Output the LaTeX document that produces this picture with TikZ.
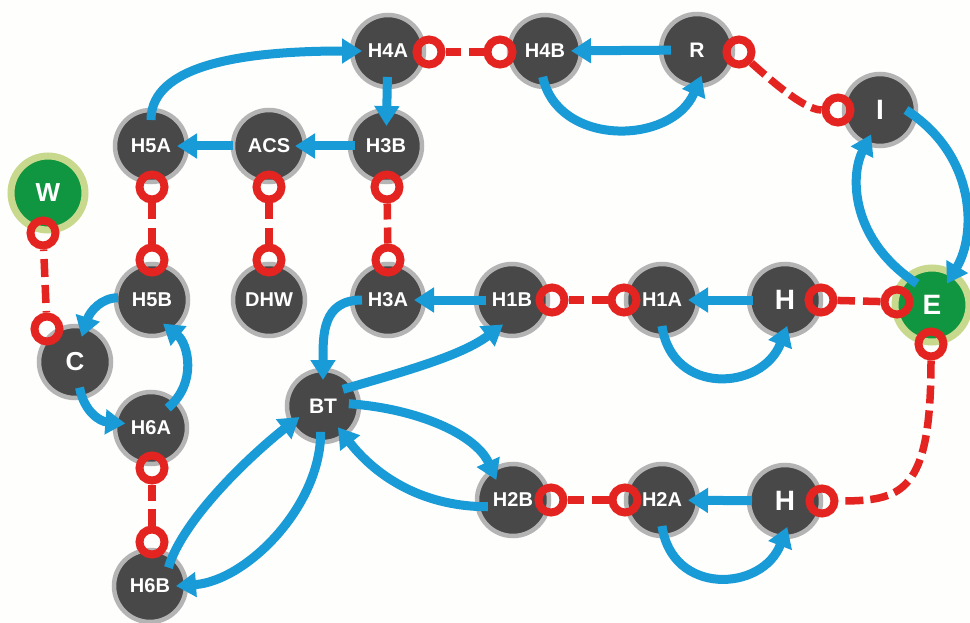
\documentclass[tikz,border=0pt]{standalone}
\usepackage{fontspec}
\setmainfont{Liberation Sans}
\usetikzlibrary{arrows.meta,calc}
\definecolor{hubdark}{RGB}{72,72,72}
\definecolor{hubring}{RGB}{180,180,180}
\definecolor{hubgreen}{RGB}{16,150,64}
\definecolor{greenring}{RGB}{200,216,140}
\definecolor{flowblue}{RGB}{24,155,214}
\definecolor{linkred}{RGB}{228,36,32}
\definecolor{paper}{RGB}{254,254,252}
\tikzset{
 hub/.style={circle, fill=hubdark, draw=hubring, line width=4.5pt, minimum size=72pt,
   inner sep=0pt, outer sep=-10pt, text=white, font=\bfseries\fontsize{20}{20}\selectfont},
 greenhub/.style={hub, fill=hubgreen, draw=greenring, line width=7pt, minimum size=74pt, outer sep=-11pt},
 bigtext/.style={font=\bfseries\fontsize{28}{28}\selectfont},
 midtext/.style={font=\bfseries\fontsize{26}{26}\selectfont},
 smalltext/.style={font=\bfseries\fontsize{21}{21}\selectfont},
 ring/.style={circle, draw=linkred, line width=8pt, minimum size=25pt, inner sep=0pt},
 link/.style={draw=linkred, line width=7.5pt, dash pattern=on 18pt off 8pt, dash phase=22pt},
 curvelink/.style={draw=linkred, line width=7.5pt, dash pattern=on 18pt off 7pt, dash phase=0pt},
 flow/.style={draw=flowblue, line width=9pt, -{Triangle[length=20pt,width=24pt]}},
}
\newcommand\redlink[2]{%
  \draw[link] ($(#1)!0.5!(#2)$) -- (#1);
  \draw[link] ($(#1)!0.5!(#2)$) -- (#2);}
\begin{document}
\begin{tikzpicture}[x=1pt,y=1pt]
\fill[paper] (0,0) rectangle (970,-623);
\useasboundingbox (0,0) rectangle (970,-623);
% hubs
\node[greenhub, midtext] (w) at (48,-193) {W};
\node[hub, midtext] (c) at (75,-362) {C};
\node[hub] (h5a) at (151,-146) {H5A};
\node[hub] (acs) at (269,-146) {ACS};
\node[hub] (h3b) at (386,-146) {H3B};
\node[hub] (h4a) at (388,-51) {H4A};
\node[hub] (h4b) at (545,-51) {H4B};
\node[hub, smalltext] (r) at (697,-50) {R};
\node[hub, bigtext] (i) at (880,-110) {I};
\node[greenhub, bigtext] (e) at (932,-305) {E};
\node[hub] (h5b) at (152,-300) {H5B};
\node[hub] (dhw) at (269,-300) {DHW};
\node[hub] (h3a) at (388,-300) {H3A};
\node[hub] (h1b) at (512,-300) {H1B};
\node[hub] (h1a) at (662,-300) {H1A};
\node[hub, bigtext] (hu) at (785,-300) {H};
\node[hub, smalltext] (bt) at (323,-406) {BT};
\node[hub] (h6a) at (151,-428) {H6A};
\node[hub] (h6b) at (150,-586) {H6B};
\node[hub] (h2b) at (513,-500) {H2B};
\node[hub] (h2a) at (662,-500) {H2A};
\node[hub, bigtext] (hl) at (785,-501) {H};
% red rings
\node[ring] (w-r) at ($(w)+(-5,-40)$) {};
\node[ring] (c-r) at ($(c)+(-28,33)$) {};
\node[ring] (h5a-r) at ($(h5a)+(1,-41)$) {};
\node[ring] (h5b-r) at ($(h5b)+(0,40)$) {};
\node[ring] (acs-r) at ($(acs)+(0,-41)$) {};
\node[ring] (dhw-r) at ($(dhw)+(0,40)$) {};
\node[ring] (h3b-r) at ($(h3b)+(1,-41)$) {};
\node[ring] (h3a-r) at ($(h3a)+(0,40)$) {};
\node[ring] (h4a-r) at ($(h4a)+(41,-1)$) {};
\node[ring] (h4b-r) at ($(h4b)+(-45,-1)$) {};
\node[ring] (r-r) at ($(r)+(42,-2)$) {};
\node[ring] (i-r) at ($(i)+(-42,0)$) {};
\node[ring] (h6a-r) at ($(h6a)+(1,-40)$) {};
\node[ring] (h6b-r) at ($(h6b)+(2,44)$) {};
\node[ring] (h1b-r) at ($(h1b)+(40,0)$) {};
\node[ring] (h1a-r) at ($(h1a)+(-38,0)$) {};
\node[ring] (hu-r) at ($(hu)+(36,0)$) {};
\node[ring] (ew-r) at ($(e)+(-35,3)$) {};
\node[ring] (es-r) at ($(e)+(-1,-39)$) {};
\node[ring] (hl-r) at ($(hl)+(37,0)$) {};
\node[ring] (h2b-r) at ($(h2b)+(38,0)$) {};
\node[ring] (h2a-r) at ($(h2a)+(-37,0)$) {};
% red dashed links
\redlink{w-r}{c-r}
\redlink{h5a-r}{h5b-r}
\redlink{acs-r}{dhw-r}
\redlink{h3b-r}{h3a-r}
\redlink{h4a-r}{h4b-r}
\redlink{h6a-r}{h6b-r}
\redlink{h1b-r}{h1a-r}
\redlink{hu-r}{ew-r}
\redlink{h2b-r}{h2a-r}
\draw[curvelink] (r-r) .. controls +(25,-22) and +(-35,0) .. (i-r);
\draw[curvelink] (es-r) .. controls +(0,-150) and +(80,0) .. (hl-r);
% blue flows
\draw[flow] (h5a.90) .. controls +(0,55) and +(-120,0) .. (h4a.180);
\draw[flow, shorten >=-6pt] (h4a) -- (h3b);
\draw[flow, shorten <=5pt] (h3b) -- (acs);
\draw[flow, shorten <=10pt] (acs) -- (h5a);
\draw[flow] (r) -- (h4b);
\draw[flow] (h4b.-95) .. controls +(15,-70) and +(-30,-70) .. (r.-80);
\draw[flow] (i.0) .. controls +(70,-45) and +(30,50) .. (e.55);
\draw[flow] (e.125) .. controls +(-67,44) and +(-21,-41) .. (i.-110);
\draw[flow, shorten <=6pt] (hu) -- (h1a);
\draw[flow] (h1a.-90) .. controls +(10,-70) and +(-25,-65) .. (hu.-85);
\draw[flow] (h1b) -- (h3a);
\draw[flow] (h3a.180) .. controls +(-40,0) and +(0,45) .. (bt.90);
\draw[flow] (bt.40) .. controls +(70,20) and +(-40,-30) .. (h1b.250);
\draw[flow] (bt.5) .. controls +(70,-5) and +(-20,45) .. (h2b.130);
\draw[flow] (h2b.195) .. controls +(-70,0) and +(35,-45) .. (bt.-55);
\draw[flow, shorten <=7pt] (hl) -- (h2a);
\draw[flow] (h2a.-90) .. controls +(10,-70) and +(-25,-65) .. (hl.-85);
\draw[flow, shorten <=8pt] (h5b.175) .. controls +(-25,0) and +(8,25) .. (c.75);
\draw[flow] (c.-80) .. controls +(5,-25) and +(-25,2) .. (h6a.170);
\draw[flow] (h6a.50) .. controls +(30,25) and +(25,-20) .. (h5b.-65);
\draw[flow] (h6b.45) .. controls +(15,50) and +(-45,-35) .. (bt.205);
\draw[flow] (bt.-95) .. controls +(0,-75) and +(70,5) .. (h6b.0);
\end{tikzpicture}
\end{document}
